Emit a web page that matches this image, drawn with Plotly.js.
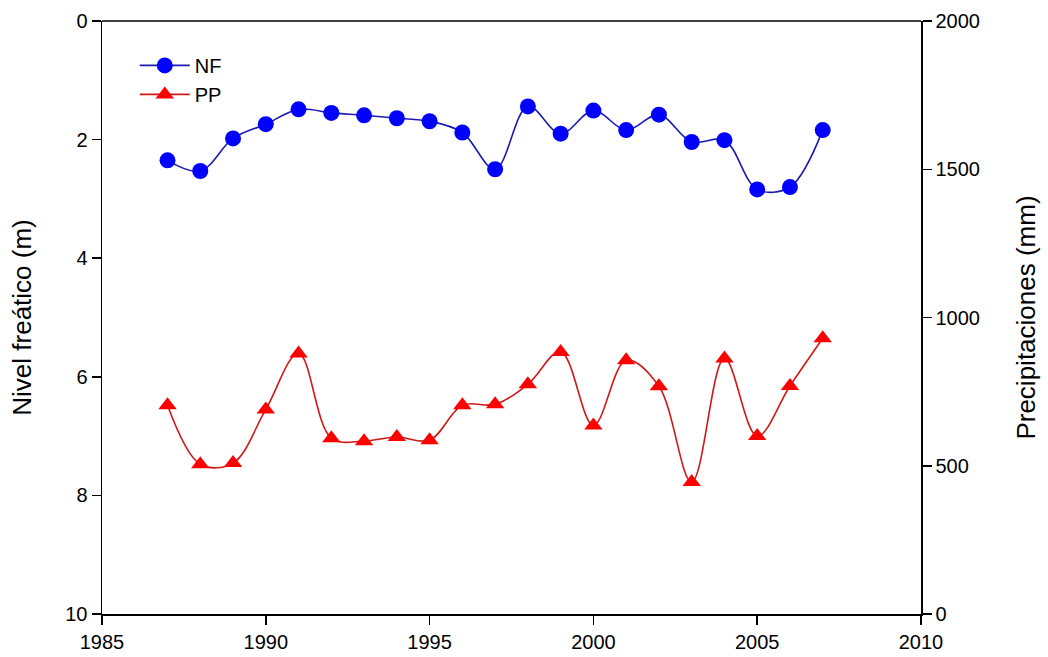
<!DOCTYPE html>
<html>
<head>
<meta charset="utf-8">
<script src="https://cdn.plot.ly/plotly-3.0.1.min.js"></script>
<style>html,body{margin:0;padding:0;background:#fff;}#chart{width:1048px;height:657px;}</style>
</head>
<body>
<div id="chart"></div>
<script>
var years = [1987,1988,1989,1990,1991,1992,1993,1994,1995,1996,1997,1998,1999,2000,2001,2002,2003,2004,2005,2006,2007];
var nf = [2.35,2.53,1.98,1.74,1.49,1.55,1.59,1.64,1.69,1.88,2.50,1.44,1.90,1.51,1.84,1.58,2.04,2.01,2.84,2.80,1.84];
var pp = [704,505,509,690,879,593,583,597,586,704,707,775,884,636,856,768,445,862,600,769,930];
var xTicks = [1985,1990,1995,2000,2005,2010];
var leftTicks = [0,2,4,6,8,10];
var rightTicks = [0,500,1000,1500,2000];

var fam = 'Liberation Sans, Arial, sans-serif';
var font = {family: fam, size: 20, color: '#000'};
var titleFont = {family: fam, size: 26, color: '#000'};

var traces = [
  {x: years, y: nf, name: 'NF', type: 'scatter', mode: 'lines+markers',
   line: {color: '#1a1ab4', width: 1.6, shape: 'spline', smoothing: 1},
   marker: {symbol: 'circle', size: 16, color: '#0000ff'}, yaxis: 'y'},
  {x: years, y: pp, name: 'PP', type: 'scatter', mode: 'lines+markers',
   line: {color: '#d01818', width: 1.6, shape: 'spline', smoothing: 1},
   marker: {symbol: 'triangle-up', size: 16, color: '#ff0000'}, yaxis: 'y2'}
];

var layout = {
  width: 1048, height: 657,
  margin: {l: 102, r: 127, t: 21, b: 43},
  paper_bgcolor: '#fff', plot_bgcolor: '#fff',
  font: font,
  showlegend: true,
  legend: {x: 0.04, y: 0.958, xanchor: 'left', yanchor: 'top', bgcolor: 'rgba(0,0,0,0)',
           font: {family: fam, size: 20, color: '#000'}, tracegroupgap: 0, itemwidth: 50},
  shapes: [{type: 'line', xref: 'paper', yref: 'paper', x0: 0, x1: 1, y0: 1, y1: 1,
            line: {color: '#000', width: 1.5}}],
  xaxis: {range: [1985, 2010], tickvals: xTicks, ticktext: xTicks.map(String),
          ticks: 'outside', ticklen: 9, tickwidth: 1.5, tickcolor: '#000',
          showline: true, linecolor: '#000', linewidth: 1.5,
          showgrid: false, zeroline: false, tickfont: font},
  yaxis: {range: [10, 0], tickvals: leftTicks, ticktext: leftTicks.map(String),
          ticks: 'outside', ticklen: 9, tickwidth: 1.5, tickcolor: '#000',
          showline: true, linecolor: '#000', linewidth: 1.5,
          showgrid: false, zeroline: false, tickfont: font,
          title: {text: 'Nivel freático (m)', font: titleFont, standoff: 26}},
  yaxis2: {range: [0, 2000], overlaying: 'y', side: 'right',
           tickvals: rightTicks, ticktext: rightTicks.map(String),
           ticks: 'outside', ticklen: 9, tickwidth: 1.5, tickcolor: '#000',
           showline: true, linecolor: '#000', linewidth: 1.5,
           showgrid: false, zeroline: false, tickfont: font,
           title: {text: 'Precipitaciones (mm)', font: titleFont, standoff: 38}}
};

Plotly.newPlot('chart', traces, layout, {displayModeBar: false, staticPlot: true});
</script>
</body>
</html>
